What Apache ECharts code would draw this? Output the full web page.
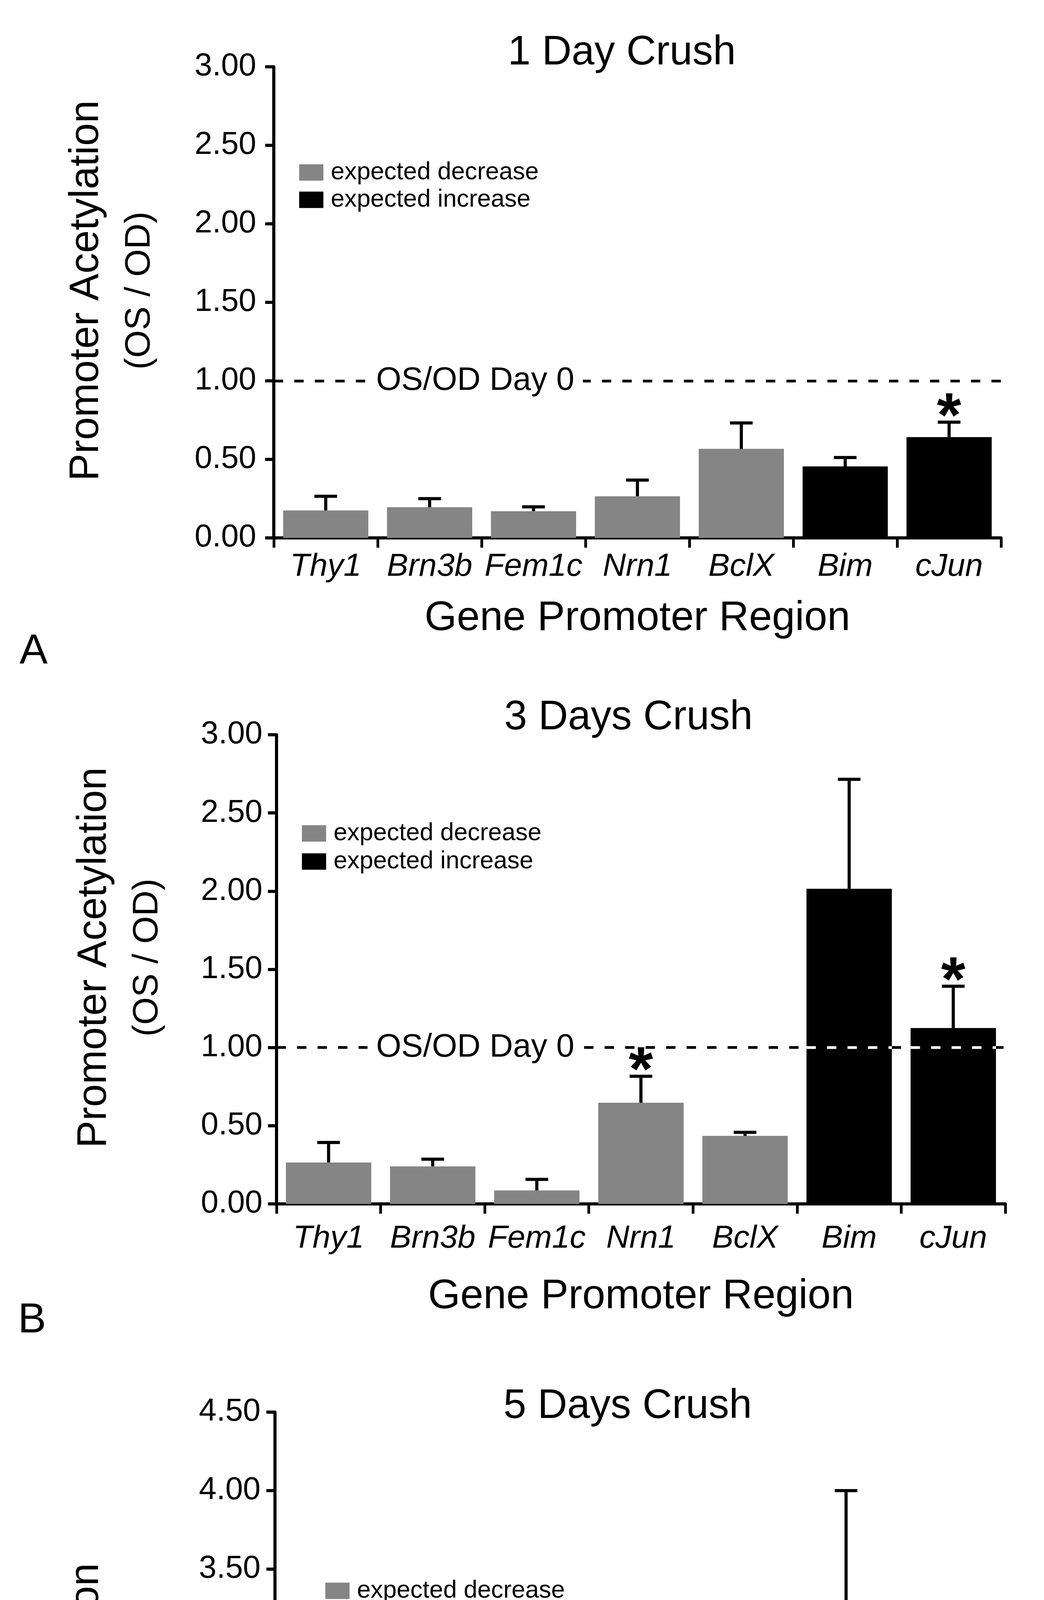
<!DOCTYPE html>
<html>
<head>
<meta charset="utf-8">
<script src="https://cdn.jsdelivr.net/npm/echarts@6/dist/echarts.min.js"></script>
<style>
html,body{margin:0;padding:0;background:#fff;}
#c{width:2673px;height:5830px;}
</style>
</head>
<body>
<div id="c"></div>
<script>
// ---------- data ----------
const categories = ['Thy1', 'Brn3b', 'Fem1c', 'Nrn1', 'BclX', 'Bim', 'cJun'];
const expectation = ['decrease', 'decrease', 'decrease', 'decrease', 'decrease', 'increase', 'increase'];
const seriesNames = ['expected decrease', 'expected increase'];
const panelTitles = ['1 Day Crush', '3 Days Crush', '5 Days Crush'];
const panelLetters = ['A', 'B', 'C'];
const yMaxes = [3, 3, 4.5];
const yInterval = 0.5;
const baselineValue = 1;
const baselineLabel = 'OS/OD Day 0';

const day1Mean  = [0.175, 0.195, 0.170, 0.265, 0.567, 0.455, 0.642];
const day1Upper = [0.265, 0.250, 0.198, 0.368, 0.732, 0.512, 0.737];
const day1Sig   = [0, 0, 0, 0, 0, 0, 1];

const day3Mean  = [0.265, 0.240, 0.086, 0.647, 0.435, 2.015, 1.125];
const day3Upper = [0.393, 0.286, 0.157, 0.816, 0.458, 2.715, 1.392];
const day3Sig   = [0, 0, 0, 1, 0, 0, 1];

const day5Mean  = [0.465, 0.345, 0.420, 0.375, 0.760, 3.090, 1.200];
const day5Upper = [0.635, 0.435, 0.535, 0.463, 0.858, 4.000, 1.528];
const day5Sig   = [0, 0, 0, 0, 1, 0, 1];

const means = [day1Mean, day3Mean, day5Mean];
const uppers = [day1Upper, day3Upper, day5Upper];
const sigs = [day1Sig, day3Sig, day5Sig];

// ---------- layout / style ----------
const FONT = "'Liberation Sans', Arial, Helvetica, sans-serif";
const GRAY = '#858585';
const BLACK = '#000000';
const layout = [
  {grid:{left:701, top:171, width:1862, height:1206}, titleX:1592, titleY:84, letterX:50, letterY:1615,
   legendX:766, legendY:410, legendGap:7, xLabelMargin:33, xNameGap:154, yLabelMargin:45, yNameGap:275, labelDist:240},
  {grid:{left:708, top:1881, width:1866, height:1201}, titleX:1609, titleY:1786, letterX:46, letterY:3327,
   legendX:773, legendY:2102, legendGap:9, xLabelMargin:48, xNameGap:185, yLabelMargin:36, yNameGap:262, labelDist:233},
  {grid:{left:704, top:3615, width:1861, height:1808}, titleX:1607, titleY:3549, letterX:50, letterY:5703,
   legendX:833, legendY:4041, legendGap:7, xLabelMargin:47, xNameGap:195, yLabelMargin:37, yNameGap:278, labelDist:240}
];

function errRenderer(params, api) {
  const i = api.value(0), v = api.value(1), e = api.value(2), s = api.value(3);
  const top = api.coord([i, v]);
  const cap = api.coord([i, e]);
  const band = api.size([1, 0])[0];
  const capHalf = 29;
  const children = [
    {type:'line', shape:{x1:top[0], y1:top[1], x2:cap[0], y2:cap[1]}, style:{stroke:BLACK, lineWidth:8}},
    {type:'line', shape:{x1:cap[0]-capHalf, y1:cap[1], x2:cap[0]+capHalf, y2:cap[1]}, style:{stroke:BLACK, lineWidth:8}}
  ];
  if (v > baselineValue) {
    const yb = api.coord([i, baselineValue])[1];
    const hw = band * 0.82 / 2;
    children.push({type:'line', shape:{x1:top[0]-hw, y1:yb, x2:top[0]+hw, y2:yb},
      style:{stroke:'#ffffff', lineWidth:7, lineDash:[24, 28.5]}});
  }
  if (s) {
    children.push({type:'text', x:cap[0], y:cap[1]-8,
      style:{text:'*', font:'bold 160px ' + FONT, fill:BLACK, align:'center', verticalAlign:'middle'}});
  }
  return {type:'group', children};
}

const grids = [], xAxes = [], yAxes = [], series = [], legends = [], graphics = [];
for (let k = 0; k < 3; k++) {
  const L = layout[k];
  grids.push(Object.assign({containLabel:false}, L.grid));
  xAxes.push({
    type:'category', gridIndex:k, data:categories,
    axisLine:{show:true, lineStyle:{color:BLACK, width:8}},
    axisTick:{show:true, length:25, lineStyle:{color:BLACK, width:7}},
    axisLabel:{fontSize:82, fontStyle:'italic', color:BLACK, fontFamily:FONT, margin:L.xLabelMargin, interval:0},
    name:'Gene Promoter Region', nameLocation:'middle', nameGap:L.xNameGap,
    nameTextStyle:{fontSize:106, color:BLACK, fontFamily:FONT}
  });
  yAxes.push({
    type:'value', gridIndex:k, min:0, max:yMaxes[k], interval:yInterval,
    axisLine:{show:true, lineStyle:{color:BLACK, width:8}},
    axisTick:{show:true, length:22, lineStyle:{color:BLACK, width:8}},
    splitLine:{show:false},
    axisLabel:{fontSize:81, color:BLACK, fontFamily:FONT, margin:L.yLabelMargin, formatter:v => v.toFixed(2)},
    name:'{a|Promoter Acetylation}\n{b|(OS / OD)}', nameLocation:'middle', nameRotate:90, nameGap:L.yNameGap,
    nameTextStyle:{color:BLACK, fontFamily:FONT, align:'center', padding:[0,0,0,60],
      rich:{a:{fontSize:105, lineHeight:136, color:BLACK, fontFamily:FONT},
            b:{fontSize:91, lineHeight:136, color:BLACK, fontFamily:FONT}}}
  });
  const m = means[k];
  series.push({
    name:seriesNames[0], type:'bar', xAxisIndex:k, yAxisIndex:k, z:2,
    data:m.map((v, i) => expectation[i] === 'decrease' ? v : '-'),
    barWidth:'82%', barGap:'-100%', itemStyle:{color:GRAY},
    markLine:{
      silent:true, symbol:['none','none'], animation:false,
      data:[{yAxis:baselineValue}],
      lineStyle:{color:BLACK, width:7, type:[24, 28.5]},
      label:{show:true, position:'insideStart', distance:[L.labelDist, 0], formatter:baselineLabel,
        color:BLACK, fontSize:83, fontFamily:FONT, backgroundColor:'#ffffff', padding:[6, 22]},
      emphasis:{disabled:true}
    }
  });
  series.push({
    name:seriesNames[1], type:'bar', xAxisIndex:k, yAxisIndex:k, z:2,
    data:m.map((v, i) => expectation[i] === 'increase' ? v : '-'),
    barWidth:'82%', barGap:'-100%', itemStyle:{color:BLACK}
  });
  series.push({
    type:'custom', xAxisIndex:k, yAxisIndex:k, z:10, clip:false, silent:true,
    renderItem:errRenderer,
    encode:{x:0, y:[1, 2]},
    data:m.map((v, i) => [i, v, uppers[k][i], sigs[k][i]])
  });
  legends.push({
    left:L.legendX, top:L.legendY, orient:'vertical', padding:0, itemGap:L.legendGap,
    itemWidth:62, itemHeight:42, icon:'rect', selectedMode:false, data:seriesNames,
    textStyle:{fontSize:63, color:BLACK, fontFamily:FONT, padding:[0,0,0,14]}
  });
  graphics.push({type:'text', x:L.titleX, y:L.titleY,
    style:{text:panelTitles[k], font:'105px ' + FONT, fill:BLACK, align:'center', verticalAlign:'top'}});
  graphics.push({type:'text', x:L.letterX, y:L.letterY,
    style:{text:panelLetters[k], font:'108px ' + FONT, fill:BLACK, align:'left', verticalAlign:'top'}});
}

const chart = echarts.init(document.getElementById('c'), null, {renderer:'canvas'});
chart.setOption({
  backgroundColor:'#ffffff',
  animation:false,
  grid:grids, xAxis:xAxes, yAxis:yAxes, series:series, legend:legends, graphic:graphics
});
</script>
</body>
</html>
